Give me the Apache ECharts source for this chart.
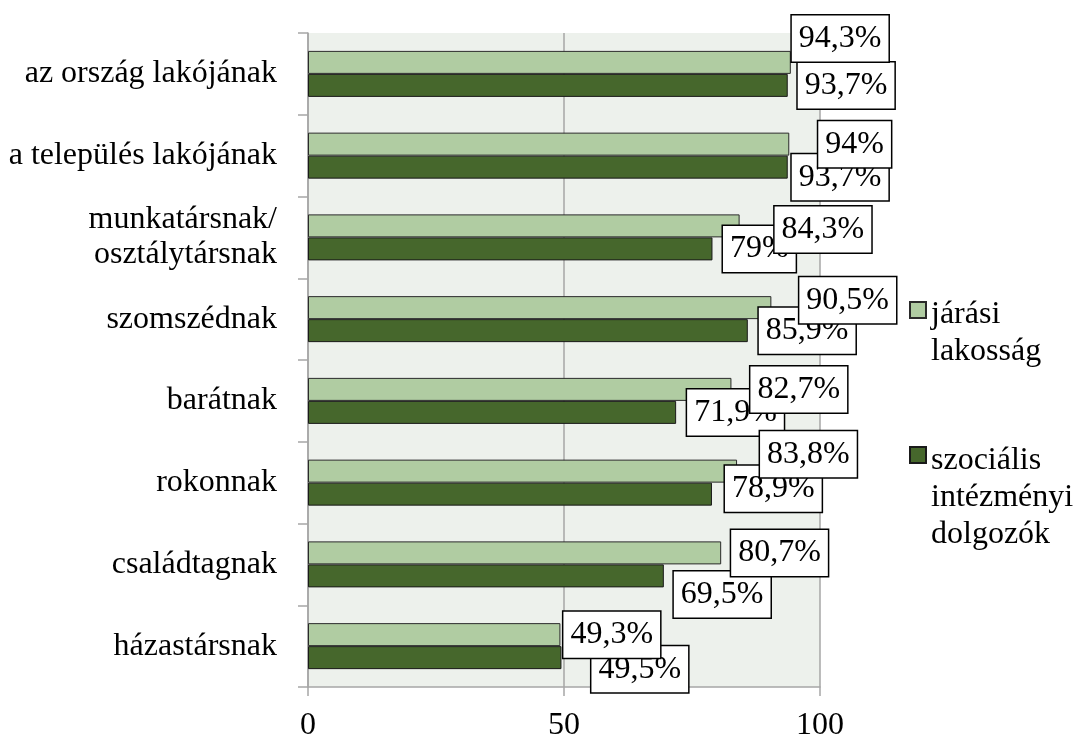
<!DOCTYPE html>
<html>
<head>
<meta charset="utf-8">
<script src="https://cdn.jsdelivr.net/npm/echarts@6/dist/echarts.min.js"></script>
<style>
  html, body { margin: 0; padding: 0; background: #ffffff; }
  #chart { width: 1075px; height: 742px; }
</style>
</head>
<body>
<div id="chart"></div>
<script>
// Categories (top to bottom)
const categories = [
  'az ország lakójának',
  'a település lakójának',
  'munkatársnak/\nosztálytársnak',
  'szomszédnak',
  'barátnak',
  'rokonnak',
  'családtagnak',
  'házastársnak'
];

// Series values (%)
const jarasiName = 'járási lakosság';
const jarasi = [94.3, 94, 84.3, 90.5, 82.7, 83.8, 80.7, 49.3];

const szocialisName = 'szociális intézményi dolgozók';
const szocialis = [93.7, 93.7, 79, 85.9, 71.9, 78.9, 69.5, 49.5];

// Value axis range and step
const axisMin = 0;
const axisMax = 100;
const axisStep = 50;

// Label box placement: gap from the bar end and vertical shift (px)
const jarasiLabelGap   = [1, 29, 35, 28, 19, 23, 10, 3];
const jarasiLabelShift = [-24, 0, 3.5, -7.5, 0, -17, 0, 0];
const szocLabelGap     = [10, 4, 10.5, 11, 11, 13, 10, 30];
const szocLabelShift   = [0, 10, 0, 0, 0, -5.5, 18.5, 11.5];

const FONT = "'Liberation Serif', 'Times New Roman', serif";
const LIGHT = '#b0cca2';
const DARK = '#46672c';
const AXIS_GRAY = '#a6a6a6';

function pct(v) {
  return String(v).replace('.', ',') + '%';
}

function withLabels(values, gaps, shifts) {
  return values.map((v, i) => ({
    value: v,
    label: { distance: gaps[i], offset: [0, shifts[i]] }
  }));
}

const labelBox = {
  show: true,
  position: 'right',
  formatter: p => pct(p.value),
  fontFamily: FONT,
  fontSize: 32,
  lineHeight: 38,
  color: '#000',
  backgroundColor: '#ffffff',
  borderColor: '#000000',
  borderWidth: 1.5,
  padding: [4, 7, 4, 7]
};

// Legend text: a spacer line on top keeps the swatch level with the first text line
function legendRich(spacer) {
  return {
    gap: { height: spacer, lineHeight: spacer, fontSize: 10 },
    t: { fontFamily: FONT, fontSize: 32, lineHeight: 37, color: '#000' }
  };
}

const chart = echarts.init(document.getElementById('chart'), null, { renderer: 'canvas' });

chart.setOption({
  animation: false,
  backgroundColor: '#ffffff',
  grid: {
    left: 308, right: 255, top: 33, bottom: 54,
    show: true, backgroundColor: '#edf1ec', borderWidth: 0
  },
  legend: [
    {
      data: [jarasiName],
      orient: 'vertical',
      left: 909, top: 249.5, padding: 0,
      icon: 'rect',
      itemWidth: 16, itemHeight: 16,
      formatter: () => '{gap| }\n{t|járási}\n{t|lakosság}',
      textStyle: { rich: legendRich(47) },
      selectedMode: false
    },
    {
      data: [szocialisName],
      orient: 'vertical',
      left: 909, top: 356.5, padding: 0,
      icon: 'rect',
      itemWidth: 16, itemHeight: 16,
      formatter: () => '{gap| }\n{t|szociális}\n{t|intézményi}\n{t|dolgozók}',
      textStyle: { rich: legendRich(86) },
      selectedMode: false
    }
  ],
  xAxis: {
    type: 'value',
    min: axisMin, max: axisMax, interval: axisStep,
    axisLine: { show: true, lineStyle: { color: AXIS_GRAY, width: 1.5 } },
    axisTick: { show: true, length: 9, lineStyle: { color: AXIS_GRAY, width: 1.5 } },
    splitLine: { show: true, lineStyle: { color: AXIS_GRAY, width: 1.5 } },
    axisLabel: { fontFamily: FONT, fontSize: 32, color: '#000', margin: 23 }
  },
  yAxis: {
    type: 'category',
    inverse: true,
    data: categories,
    axisLine: { show: true, lineStyle: { color: AXIS_GRAY, width: 1.5 } },
    axisTick: { show: true, length: 10, lineStyle: { color: AXIS_GRAY, width: 1.5 } },
    axisLabel: {
      fontFamily: FONT, fontSize: 32, lineHeight: 35, color: '#000',
      margin: 31, padding: [5, 0, 0, 0]
    }
  },
  series: [
    {
      // drawn first so the lighter series' labels sit above its labels
      name: szocialisName,
      type: 'bar',
      barWidth: 23,
      barGap: '-200%',
      data: withLabels(szocialis, szocLabelGap, szocLabelShift),
      itemStyle: { color: DARK, borderColor: '#1a1a1a', borderWidth: 1 },
      label: labelBox
    },
    {
      name: jarasiName,
      type: 'bar',
      barWidth: 23,
      barGap: '-200%',
      data: withLabels(jarasi, jarasiLabelGap, jarasiLabelShift),
      itemStyle: { color: LIGHT, borderColor: '#2a2a2a', borderWidth: 1 },
      label: labelBox
    }
  ]
});
</script>
</body>
</html>
